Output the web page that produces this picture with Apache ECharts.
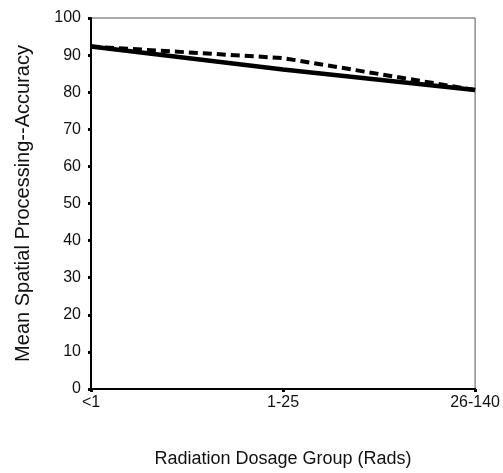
<!DOCTYPE html>
<html>
<head>
<meta charset="utf-8">
<script src="https://cdn.jsdelivr.net/npm/echarts@6/dist/echarts.min.js"></script>
<style>
  html, body { margin: 0; padding: 0; background: #fff; }
  #chart { width: 503px; height: 473px; }
</style>
</head>
<body>
<div id="chart"></div>
<script>
// dosage groups on the x axis
const dosageGroups = ['<1', '1-25', '26-140'];
// mean accuracy per group
const solidSeries = [92.3, 86.1, 80.6];
const dashedSeries = [92.3, 89.2, 80.6];
const yTicks = { min: 0, max: 100, interval: 10 };

const chart = echarts.init(document.getElementById('chart'), null, { renderer: 'canvas' });

const font = '"Liberation Sans", Arial, sans-serif';

chart.setOption({
    backgroundColor: '#ffffff',
    animation: false,
    grid: {
        left: 91,
        right: 25,
        top: 18,
        bottom: 82,
        show: true,
        borderColor: '#555',
        borderWidth: 1
    },
    xAxis: {
        type: 'category',
        data: dosageGroups,
        boundaryGap: false,
        name: 'Radiation Dosage Group (Rads)',
        nameLocation: 'middle',
        nameGap: 61,
        nameTextStyle: { color: '#111', fontSize: 18, fontFamily: font },
        axisLine: { lineStyle: { color: '#000', width: 2 } },
        axisTick: { show: true, alignWithLabel: true, length: 3, lineStyle: { color: '#000', width: 3 } },
        axisLabel: { color: '#111', fontSize: 16, fontFamily: font, margin: 6 },
        splitLine: { show: false }
    },
    yAxis: {
        type: 'value',
        min: yTicks.min,
        max: yTicks.max,
        interval: yTicks.interval,
        name: 'Mean Spatial Processing--Accuracy',
        nameLocation: 'middle',
        nameGap: 58,
        nameTextStyle: { color: '#111', fontSize: 20, fontFamily: font },
        axisLine: { show: true, lineStyle: { color: '#000', width: 2 } },
        axisTick: { show: true, length: 3, lineStyle: { color: '#000', width: 3 } },
        axisLabel: { color: '#111', fontSize: 16, fontFamily: font, margin: 10 },
        splitLine: { show: false }
    },
    series: [
        {
            name: 'solid',
            type: 'line',
            data: solidSeries,
            smooth: false,
            showSymbol: false,
            lineStyle: { color: '#000', width: 4.5 }
        },
        {
            name: 'dashed',
            type: 'line',
            data: dashedSeries,
            smooth: false,
            showSymbol: false,
            lineStyle: { color: '#000', width: 4, type: [9, 5] }
        }
    ]
});

window.addEventListener('resize', () => chart.resize());
</script>
</body>
</html>
